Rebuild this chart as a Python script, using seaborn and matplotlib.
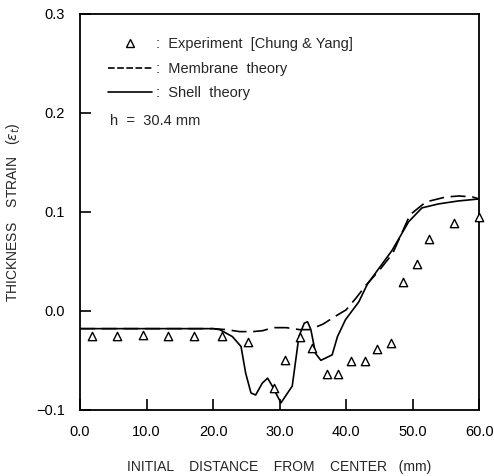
import matplotlib
matplotlib.use("Agg")
import matplotlib.pyplot as plt
import seaborn as sns
import pandas as pd
from matplotlib.lines import Line2D

# Experiment (Chung & Yang)
exp_x = [1.75, 5.5, 9.4, 13.2, 17.2, 21.3, 25.2, 29.2, 30.8, 33.1, 34.9, 37.1, 38.8,
         40.8, 42.8, 44.7, 46.7, 48.6, 50.6, 52.5, 56.2, 59.9]
exp_y = [-0.025, -0.025, -0.024, -0.025, -0.025, -0.025, -0.031, -0.078, -0.050, -0.026,
         -0.038, -0.064, -0.064, -0.051, -0.051, -0.039, -0.032, 0.029, 0.047, 0.073,
         0.089, 0.095]

# Membrane theory
mem_x = [0, 10, 20, 22, 24, 26, 27.5, 29, 31, 33, 34.5, 36.5, 38.5, 40, 41.5, 43, 45,
         47, 49.6, 52, 55, 57, 59, 60]
mem_y = [-0.018, -0.018, -0.018, -0.019, -0.021, -0.021, -0.020, -0.017, -0.017, -0.019,
         -0.019, -0.0135, -0.005, 0.001, 0.013, 0.026, 0.041, 0.058, 0.097, 0.110, 0.115,
         0.116, 0.115, 0.113]

# Shell theory
shell_x = [0, 10, 20, 21, 22.9, 24.2, 24.9, 25.7, 26.4, 27.4, 28.2, 28.9, 30.2, 31.9,
           32.9, 33.7, 34.2, 34.7, 35.4, 36.2, 37.9, 38.7, 39.9, 41.9, 43.2, 46.9, 49.4,
           51.4, 53.9, 56.9, 60]
shell_y = [-0.018, -0.018, -0.018, -0.019, -0.026, -0.036, -0.063, -0.083, -0.085, -0.073,
           -0.068, -0.076, -0.093, -0.076, -0.026, -0.0125, -0.011, -0.019, -0.043, -0.050,
           -0.0445, -0.026, -0.009, 0.009, 0.027, 0.061, 0.090, 0.104, 0.108, 0.111, 0.113]

x_ticks = [0, 10, 20, 30, 40, 50, 60]
x_ticklabels = ["0.0", "10.0", "20.0", "30.0", "40.0", "50.0", "60.0"]
y_ticks = [-0.1, 0.0, 0.1, 0.2, 0.3]
y_ticklabels = ["\u22120.1", "0.0", "0.1", "0.2", "0.3"]

sns.set_style("ticks")
plt.rcParams['font.family'] = ['Liberation Sans', 'DejaVu Sans']
plt.rcParams['mathtext.fontset'] = 'dejavusans'

fig = plt.figure(figsize=(4.94, 4.76), dpi=100)
ax = fig.add_axes([0.162, 0.139, 0.808, 0.832])

df_exp = pd.DataFrame({"x": exp_x, "y": exp_y})
df_mem = pd.DataFrame({"x": mem_x, "y": mem_y})
df_shell = pd.DataFrame({"x": shell_x, "y": shell_y})

sns.lineplot(data=df_mem, x="x", y="y", ax=ax, color="black", lw=1.2,
             sort=False, estimator=None)
mem_line = ax.lines[-1]
mem_line.set_dashes([9, 4])
sns.lineplot(data=df_shell, x="x", y="y", ax=ax, color="black", lw=1.2,
             sort=False, estimator=None)
sns.scatterplot(data=df_exp, x="x", y="y", ax=ax, marker="^", s=36,
                facecolor="white", edgecolor="black", linewidth=1.0, zorder=5)
ax.collections[-1].set_clip_on(False)

ax.set_xlim(0, 60)
ax.set_ylim(-0.1, 0.3)
ax.set_xticks(x_ticks)
ax.set_xticklabels(x_ticklabels)
ax.set_yticks(y_ticks)
ax.set_yticklabels(y_ticklabels)
ax.tick_params(direction="in", length=8, width=1.2, labelsize=10.5, pad=11,
               colors="black")
for s in ax.spines.values():
    s.set_linewidth(1.3)
    s.set_color("black")

ax.set_xlabel("INITIAL    DISTANCE    FROM    CENTER   (mm)", fontsize=10, labelpad=15)
ax.set_ylabel(r"THICKNESS    STRAIN   ($\varepsilon_t$)", fontsize=10, labelpad=10)

handles = [
    Line2D([], [], marker="^", linestyle="none", markerfacecolor="white",
           markeredgecolor="black", markersize=6),
    Line2D([], [], color="black", lw=1.2, dashes=[4, 1.5]),
    Line2D([], [], color="black", lw=1.2),
]
labels = [":  Experiment  [Chung & Yang]", ":  Membrane  theory", ":  Shell  theory"]
ax.legend(handles, labels, loc="upper left", bbox_to_anchor=(0.055, 0.955),
          frameon=False, fontsize=10.5, handlelength=3.0, handletextpad=0.3,
          labelspacing=0.7, borderaxespad=0)
ax.text(0.075, 0.73, "h  =  30.4 mm", transform=ax.transAxes, fontsize=10.5,
        ha="left", va="center")

fig.savefig("out.png", dpi=100)
